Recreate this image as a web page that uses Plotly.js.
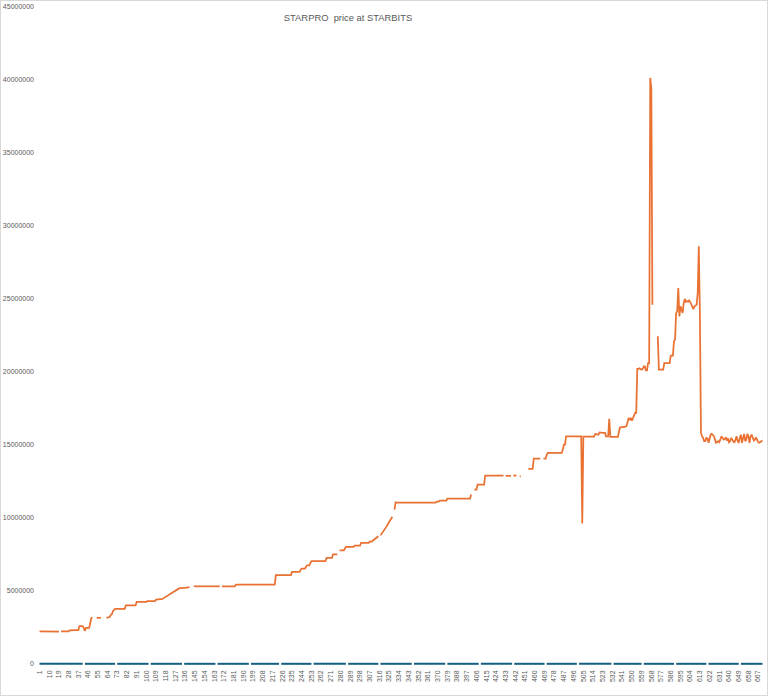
<!DOCTYPE html>
<html>
<head>
<meta charset="utf-8">
<script src="https://cdn.plot.ly/plotly-3.0.1.min.js"></script>
<style>
  html, body { margin: 0; padding: 0; background: #ffffff; }
  #wrap { position: relative; width: 768px; height: 696px; }
  #chart { width: 768px; height: 696px; }
  #frame { position: absolute; left: 0; top: 0; width: 768px; height: 696px; box-sizing: border-box; border: 1px solid #D9D9D9; pointer-events: none; }
</style>
</head>
<body>
<div id="wrap"><div id="chart"></div><div id="frame"></div></div>
<script>
// ---- Data ----
const chartTitle = "STARPRO\u00a0 price at STARBITS";

// x tick labels (every 9th category)
const tickLabels = ["1","10","19","28","37","46","55","64","73","82","91","100","109","118","127","136","145","154","163","172","181","190","199","208","217","226","235","244","253","262","271","280","289","298","307","316","325","334","343","352","361","370","379","388","397","406","415","424","433","442","451","460","469","478","487","496","505","514","523","532","541","550","559","568","577","586","595","604","613","622","631","640","649","658","667"];

// y tick labels
const yTicks = [0, 5000000, 10000000, 15000000, 20000000, 25000000, 30000000, 35000000, 40000000, 45000000];

// Orange series (STARPRO price), categories 1..671, null = missing
const starproPrice = [
/*1*/   2230000,2230000,2220000,2230000,2230000,2220000,2230000,2230000,2210000,2200000,
/*11*/  2210000,2210000,2200000,2210000,2200000,2200000,2210000,2200000,2210000,null,
/*21*/  2220000,2220000,2210000,2220000,2220000,2220000,2230000,2230000,2290000,2300000,
/*31*/  2300000,2310000,2300000,2300000,2310000,2300000,2300000,2580000,2580000,2570000,
/*41*/  2580000,2450000,2250000,2460000,2460000,2470000,2460000,2800000,3150000,3150000,
/*51*/  null,null,null,3150000,3150000,3150000,3150000,3150000,null,null,
/*61*/  null,null,3150000,3150000,3150000,3200000,3350000,3400000,3600000,3680000,
/*71*/  3770000,3770000,3770000,3770000,3770000,3770000,3770000,3770000,3770000,3770000,
/*81*/  4000000,4000000,3990000,4000000,4000000,4000000,3990000,4000000,4000000,4000000,
/*91*/  4250000,4250000,4240000,4250000,4250000,4250000,4240000,4250000,4250000,4250000,
/*101*/ 4300000,4300000,4300000,4300000,4300000,4300000,4300000,4300000,4400000,4400000,
/*111*/ 4400000,4450000,4450000,4450000,4450000,4500000,4550000,4600000,4620000,4650000,
/*121*/ 4700000,4750000,4850000,4900000,4950000,5000000,5050000,5090000,5100000,5150000,
/*131*/ 5180000,5200000,5200000,5200000,5210000,5200000,5200000,5200000,5250000,5250000,
/*141*/ null,null,null,5310000,5310000,5310000,5310000,5310000,5310000,5310000,
/*151*/ 5310000,5310000,5310000,5310000,5310000,5310000,5310000,5310000,5310000,5310000,
/*161*/ 5310000,5310000,5310000,5310000,5310000,5310000,5310000,5310000,null,5310000,
/*171*/ 5310000,5310000,5310000,5310000,5310000,5310000,5310000,5310000,5310000,5310000,
/*181*/ 5310000,5310000,5420000,5420000,5420000,5420000,5420000,5420000,5420000,5420000,
/*191*/ 5420000,5420000,5420000,5420000,5420000,5420000,5420000,5420000,5420000,5420000,
/*201*/ 5420000,5420000,5420000,5420000,5420000,5420000,5420000,5420000,5420000,5420000,
/*211*/ 5420000,5420000,5420000,5420000,5420000,5420000,5420000,5420000,5420000,6070000,
/*221*/ 6070000,6070000,6070000,6070000,6070000,6070000,6070000,6070000,6070000,6070000,
/*231*/ 6070000,6070000,6070000,6070000,6300000,6300000,6300000,6300000,6300000,6300000,
/*241*/ 6300000,6300000,6450000,6530000,6530000,6530000,6530000,6650000,6750000,6750000,
/*251*/ 6750000,6900000,7030000,7030000,7030000,7030000,7030000,7030000,7030000,7030000,
/*261*/ 7030000,7030000,7030000,7030000,7030000,7030000,7260000,7260000,7260000,7260000,
/*271*/ 7260000,7260000,7490000,7490000,7490000,7490000,7490000,null,7780000,7780000,
/*281*/ 7780000,7780000,7780000,7900000,8010000,8010000,8010000,8010000,8010000,8010000,
/*291*/ 8010000,8010000,8100000,8100000,8100000,8100000,8100000,8100000,8290000,8290000,
/*301*/ 8290000,8290000,8290000,8290000,8290000,8290000,8370000,8370000,8370000,8450000,
/*311*/ 8500000,8550000,8600000,8680000,8740000,null,8800000,8900000,9000000,9100000,
/*321*/ 9200000,9310000,9450000,9600000,9700000,9850000,9950000,10070000,null,10570000,
/*331*/ 11070000,11050000,11050000,11040000,11050000,11050000,11060000,11050000,11050000,11040000,
/*341*/ 11050000,11050000,11050000,11060000,11050000,11050000,11040000,11050000,11050000,11050000,
/*351*/ 11050000,11060000,11050000,11050000,11040000,11050000,11050000,11050000,11060000,11050000,
/*361*/ 11050000,11050000,11040000,11050000,11050000,11060000,11050000,11050000,11120000,11120000,
/*371*/ 11120000,11180000,11180000,11180000,11180000,11180000,11180000,11180000,11320000,11320000,
/*381*/ 11320000,11300000,11320000,11330000,11320000,11300000,11320000,11320000,11330000,11320000,
/*391*/ 11300000,11320000,11320000,11330000,11320000,11300000,11320000,11320000,11330000,11320000,
/*401*/ 11600000,null,null,11940000,11940000,11940000,12280000,12280000,12280000,12280000,
/*411*/ 12280000,12280000,12280000,12900000,12900000,12880000,12900000,12920000,12900000,12880000,
/*421*/ 12900000,12900000,12920000,12900000,12880000,12900000,12900000,12920000,12900000,12880000,
/*431*/ 12900000,null,12880000,12880000,12900000,12880000,12860000,12880000,null,12900000,
/*441*/ 12900000,12900000,12900000,null,null,12850000,12850000,null,null,null,
/*451*/ null,null,null,13360000,13360000,13360000,13360000,13360000,14050000,14050000,
/*461*/ 14050000,14050000,14050000,14050000,14050000,null,null,14050000,14050000,14050000,
/*471*/ 14300000,14450000,14450000,14450000,14450000,14450000,14450000,14450000,14450000,14450000,
/*481*/ 14450000,14450000,14450000,14450000,14450000,14700000,15020000,15020000,15590000,15590000,
/*491*/ 15590000,15590000,15590000,15590000,15590000,15590000,15590000,15590000,15590000,15590000,
/*501*/ 15590000,15590000,15590000,9610000,15570000,15570000,15570000,15570000,15570000,15570000,
/*511*/ 15570000,15570000,15570000,15570000,15570000,15750000,15750000,15750000,15700000,15850000,
/*521*/ 15830000,15830000,15830000,15830000,15830000,15590000,15590000,15590000,16780000,15550000,
/*531*/ 15550000,15550000,15550000,15550000,15550000,15550000,15550000,15900000,16200000,16200000,
/*541*/ 16200000,16250000,16200000,16250000,16300000,16600000,16850000,16700000,16850000,16650000,
/*551*/ 16850000,17000000,17190000,17190000,20200000,20200000,20250000,20200000,20150000,20200000,
/*561*/ 20380000,20380000,20100000,20100000,20600000,20600000,40140000,39450000,24600000,null,
/*571*/ null,null,null,22440000,20160000,20160000,20160000,20160000,20160000,20600000,
/*581*/ 20600000,20600000,20600000,20600000,20600000,21120000,21120000,21120000,22100000,22200000,
/*591*/ 24040000,24150000,25750000,23800000,24500000,24300000,24040000,24700000,25000000,24800000,
/*601*/ 24850000,24800000,24900000,24800000,24600000,24450000,24300000,24500000,24550000,24600000,
/*611*/ 25400000,28600000,24000000,15820000,15590000,15480000,15250000,15250000,15480000,15450000,
/*621*/ 15140000,15360000,15700000,15750000,15660000,15590000,15360000,15140000,15200000,15250000,
/*631*/ 15180000,15480000,15590000,15480000,15360000,15400000,15520000,15300000,15450000,15180000,
/*641*/ 15250000,15480000,15400000,15250000,15140000,15360000,15590000,15250000,15180000,15480000,
/*651*/ 15700000,15140000,15480000,15750000,15250000,15360000,15750000,15590000,15140000,15590000,
/*661*/ 15700000,15480000,15300000,15360000,15520000,15360000,15180000,15140000,15180000,15250000,
/*671*/ 15300000
];

// Blue series (second price series, reads as zero at this scale), null = missing
const starbitsPrice = [
/*1*/   0,0,0,0,0,0,0,0,0,0,
/*11*/  0,0,0,0,0,0,0,0,0,0,
/*21*/  0,0,0,0,0,0,0,0,0,0,
/*31*/  0,0,0,0,0,0,0,0,0,0,
/*41*/  0,null,0,0,0,0,0,0,0,0,
/*51*/  0,0,0,0,0,0,0,0,0,0,
/*61*/  0,0,0,0,0,0,0,0,0,0,
/*71*/  0,null,0,0,0,0,0,0,0,0,
/*81*/  0,0,0,0,0,0,0,0,0,0,
/*91*/  0,0,0,0,0,0,0,0,0,0,
/*101*/ 0,0,null,0,0,0,0,0,0,0,
/*111*/ 0,0,0,0,0,0,0,0,0,0,
/*121*/ 0,0,0,0,0,0,0,0,0,0,
/*131*/ 0,0,0,null,0,0,0,0,0,0,
/*141*/ 0,0,0,0,0,0,0,0,0,0,
/*151*/ 0,0,0,0,0,0,0,0,0,0,
/*161*/ 0,0,0,0,null,0,0,0,0,0,
/*171*/ 0,0,0,0,0,0,0,0,0,0,
/*181*/ 0,0,0,0,0,0,0,0,0,0,
/*191*/ 0,0,0,0,0,null,0,0,0,0,
/*201*/ 0,0,0,0,0,0,0,0,0,0,
/*211*/ 0,0,0,0,0,0,0,0,0,0,
/*221*/ 0,0,0,null,0,0,0,0,0,0,
/*231*/ 0,0,0,0,0,0,0,0,0,0,
/*241*/ 0,0,0,0,0,0,0,0,0,0,
/*251*/ 0,0,0,null,0,0,0,0,0,0,
/*261*/ 0,0,0,0,0,0,0,0,0,0,
/*271*/ 0,0,0,0,0,0,0,0,0,0,
/*281*/ 0,0,0,0,0,null,0,0,0,0,
/*291*/ 0,0,0,0,0,0,0,0,0,0,
/*301*/ 0,0,0,0,0,0,0,0,0,0,
/*311*/ 0,0,0,0,0,null,0,0,0,0,
/*321*/ 0,0,0,0,0,0,0,0,0,0,
/*331*/ 0,0,0,0,0,0,0,0,0,0,
/*341*/ 0,0,0,0,0,0,null,0,0,0,
/*351*/ 0,0,0,0,0,0,0,0,0,0,
/*361*/ 0,0,0,0,0,0,0,0,0,0,
/*371*/ 0,0,0,0,0,0,0,null,0,0,
/*381*/ 0,0,0,0,0,0,0,0,0,0,
/*391*/ 0,0,0,0,0,0,0,0,0,0,
/*401*/ 0,0,0,0,0,0,0,0,null,0,
/*411*/ 0,0,0,0,0,0,0,0,0,0,
/*421*/ 0,0,0,0,0,0,0,0,0,0,
/*431*/ 0,0,0,0,0,0,0,0,0,null,
/*441*/ 0,0,0,0,0,0,0,0,0,0,
/*451*/ 0,0,0,0,0,0,0,0,0,0,
/*461*/ 0,0,0,0,0,0,0,0,0,null,
/*471*/ 0,0,0,0,0,0,0,0,0,0,
/*481*/ 0,0,0,0,0,0,0,0,0,0,
/*491*/ 0,0,0,0,0,0,0,0,0,null,
/*501*/ 0,0,0,0,0,0,0,0,0,0,
/*511*/ 0,0,0,0,0,0,0,0,0,0,
/*521*/ 0,0,0,0,0,0,0,0,0,0,
/*531*/ 0,null,0,0,0,0,0,0,0,0,
/*541*/ 0,0,0,0,0,0,0,0,0,0,
/*551*/ 0,0,0,0,0,0,0,0,0,null,
/*561*/ 0,0,0,0,0,0,0,0,0,0,
/*571*/ 0,0,0,0,0,0,0,0,0,0,
/*581*/ 0,0,0,0,0,0,0,0,0,null,
/*591*/ 0,0,0,0,0,0,0,0,0,0,
/*601*/ 0,0,0,0,0,0,0,0,0,0,
/*611*/ 0,0,0,0,0,0,0,0,0,null,
/*621*/ 0,0,0,0,0,0,0,0,0,0,
/*631*/ 0,0,0,0,0,0,0,0,0,0,
/*641*/ 0,0,0,0,0,0,0,0,0,null,
/*651*/ 0,0,0,0,0,0,0,0,0,0,
/*661*/ 0,0,0,0,0,0,0,0,0,0,
/*671*/ 0
];

// Category positions 1..N (the chart's categories are plain row numbers)
const categories = starproPrice.map((_, i) => i + 1);
const tickPositions = tickLabels.map(Number);

const traces = [
  { x: categories, y: starbitsPrice, type: 'scatter', mode: 'lines', name: 'STARBITS',
    line: { color: '#156082', width: 2 }, connectgaps: false, hoverinfo: 'skip' },
  { x: categories, y: starproPrice, type: 'scatter', mode: 'lines', name: 'STARPRO',
    line: { color: '#E97132', width: 1.75 }, connectgaps: false, hoverinfo: 'skip' }
];

const layout = {
  width: 768, height: 696,
  margin: { l: 39, r: 5, t: 7, b: 30, pad: 0 },
  paper_bgcolor: '#ffffff', plot_bgcolor: '#ffffff',
  showlegend: false,
  font: { family: '"Liberation Sans", Arial, sans-serif', color: '#595959', size: 7 },
  title: { text: chartTitle, x: 348/768, xref: 'container', xanchor: 'center',
           y: 1 - 18/696, yref: 'container', yanchor: 'middle',
           font: { family: '"Liberation Sans", Arial, sans-serif', size: 9.4, color: '#595959' } },
  xaxis: { range: [0.5, categories.length + 0.5], tickmode: 'array', tickvals: tickPositions, ticktext: tickLabels,
           tickangle: -90, showgrid: false, zeroline: false, showline: false, ticks: '',
           tickfont: { size: 7, color: '#595959' }, ticklabelstandoff: 2 },
  yaxis: { range: [-150000, 45000000], tickmode: 'array', tickvals: yTicks, tickformat: 'd',
           showgrid: false, zeroline: false, showline: false, ticks: '',
           tickfont: { size: 7, color: '#595959' }, ticklabelstandoff: 4 }
};
Plotly.newPlot('chart', traces, layout, { staticPlot: true, displayModeBar: false });
</script>
</body>
</html>
